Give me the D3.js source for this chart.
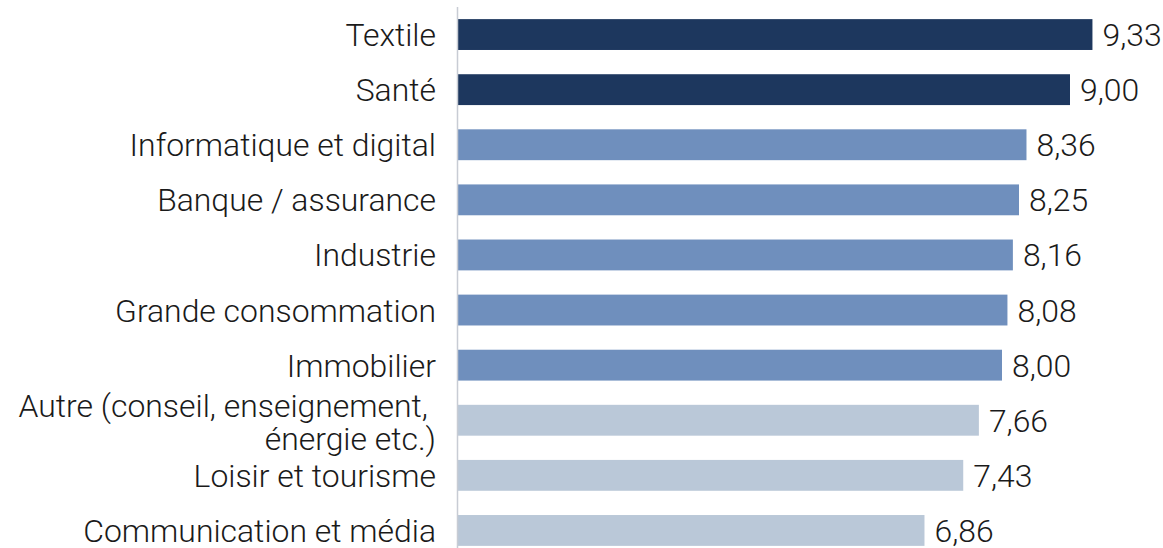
<!DOCTYPE html>
<html><head><meta charset="utf-8">
<script src="https://cdn.jsdelivr.net/npm/d3@7"></script>
<style>
body{margin:0;background:#fff;}
text{font-family:"Roboto Light", Roboto, "Noto Sans", sans-serif;font-weight:300;fill:#1a1a1a;}
</style></head>
<body>
<svg id="c" width="1163" height="548"></svg>
<script>
const categories = ["Textile","Santé","Informatique et digital","Banque / assurance","Industrie","Grande consommation","Immobilier","Autre (conseil, enseignement,|énergie etc.)","Loisir et tourisme","Communication et média"];
const values = [9.33,9.00,8.36,8.25,8.16,8.08,8.00,7.66,7.43,6.86];
const tiers = [0,0,1,1,1,1,1,2,2,2];
const tierColors = ["#1d375e","#6f8fbd","#bac8d8"];

const svg = d3.select("#c");
const x0 = 458;
const x = d3.scaleLinear().domain([0,10]).range([x0, x0+680]);
const y = d3.scaleBand().domain(categories).range([7,558]).paddingInner(0.44).paddingOuter(0.22);
const fs = 31.9;

svg.selectAll("rect.bar").data(values).join("rect")
  .attr("class","bar")
  .attr("x", x(0))
  .attr("y",(d,i)=>y(categories[i]))
  .attr("width",d=>x(d)-x(0))
  .attr("height",y.bandwidth())
  .attr("fill",(d,i)=>tierColors[tiers[i]]);

svg.append("line").attr("x1",457.5).attr("x2",457.5).attr("y1",7).attr("y2",548)
  .attr("stroke","#c8ccd4").attr("stroke-width",1.5);

svg.selectAll("text.val").data(values).join("text")
  .attr("class","val")
  .attr("x",d=>x(d)+10)
  .attr("y",(d,i)=>y(categories[i])+y.bandwidth()/2)
  .attr("dy","0.36em")
  .attr("font-size",fs)
  .text(d=>d.toFixed(2).replace(".",","));

const lab = svg.selectAll("text.lab").data(categories).join("text")
  .attr("class","lab")
  .attr("text-anchor","end")
  .attr("font-size",fs)
  .attr("x",436)
  .attr("y",d=>y(d)+y.bandwidth()/2);
lab.each(function(d){
  const parts = d.split("|");
  const t = d3.select(this);
  if(parts.length===1){
    t.append("tspan").attr("dy","0.36em").text(d);
  } else {
    t.append("tspan").attr("x",428).attr("dy","-0.1em").text(parts[0]);
    t.append("tspan").attr("x",436).attr("dy","1.02em").text(parts[1]);
  }
});
</script>
</body></html>
